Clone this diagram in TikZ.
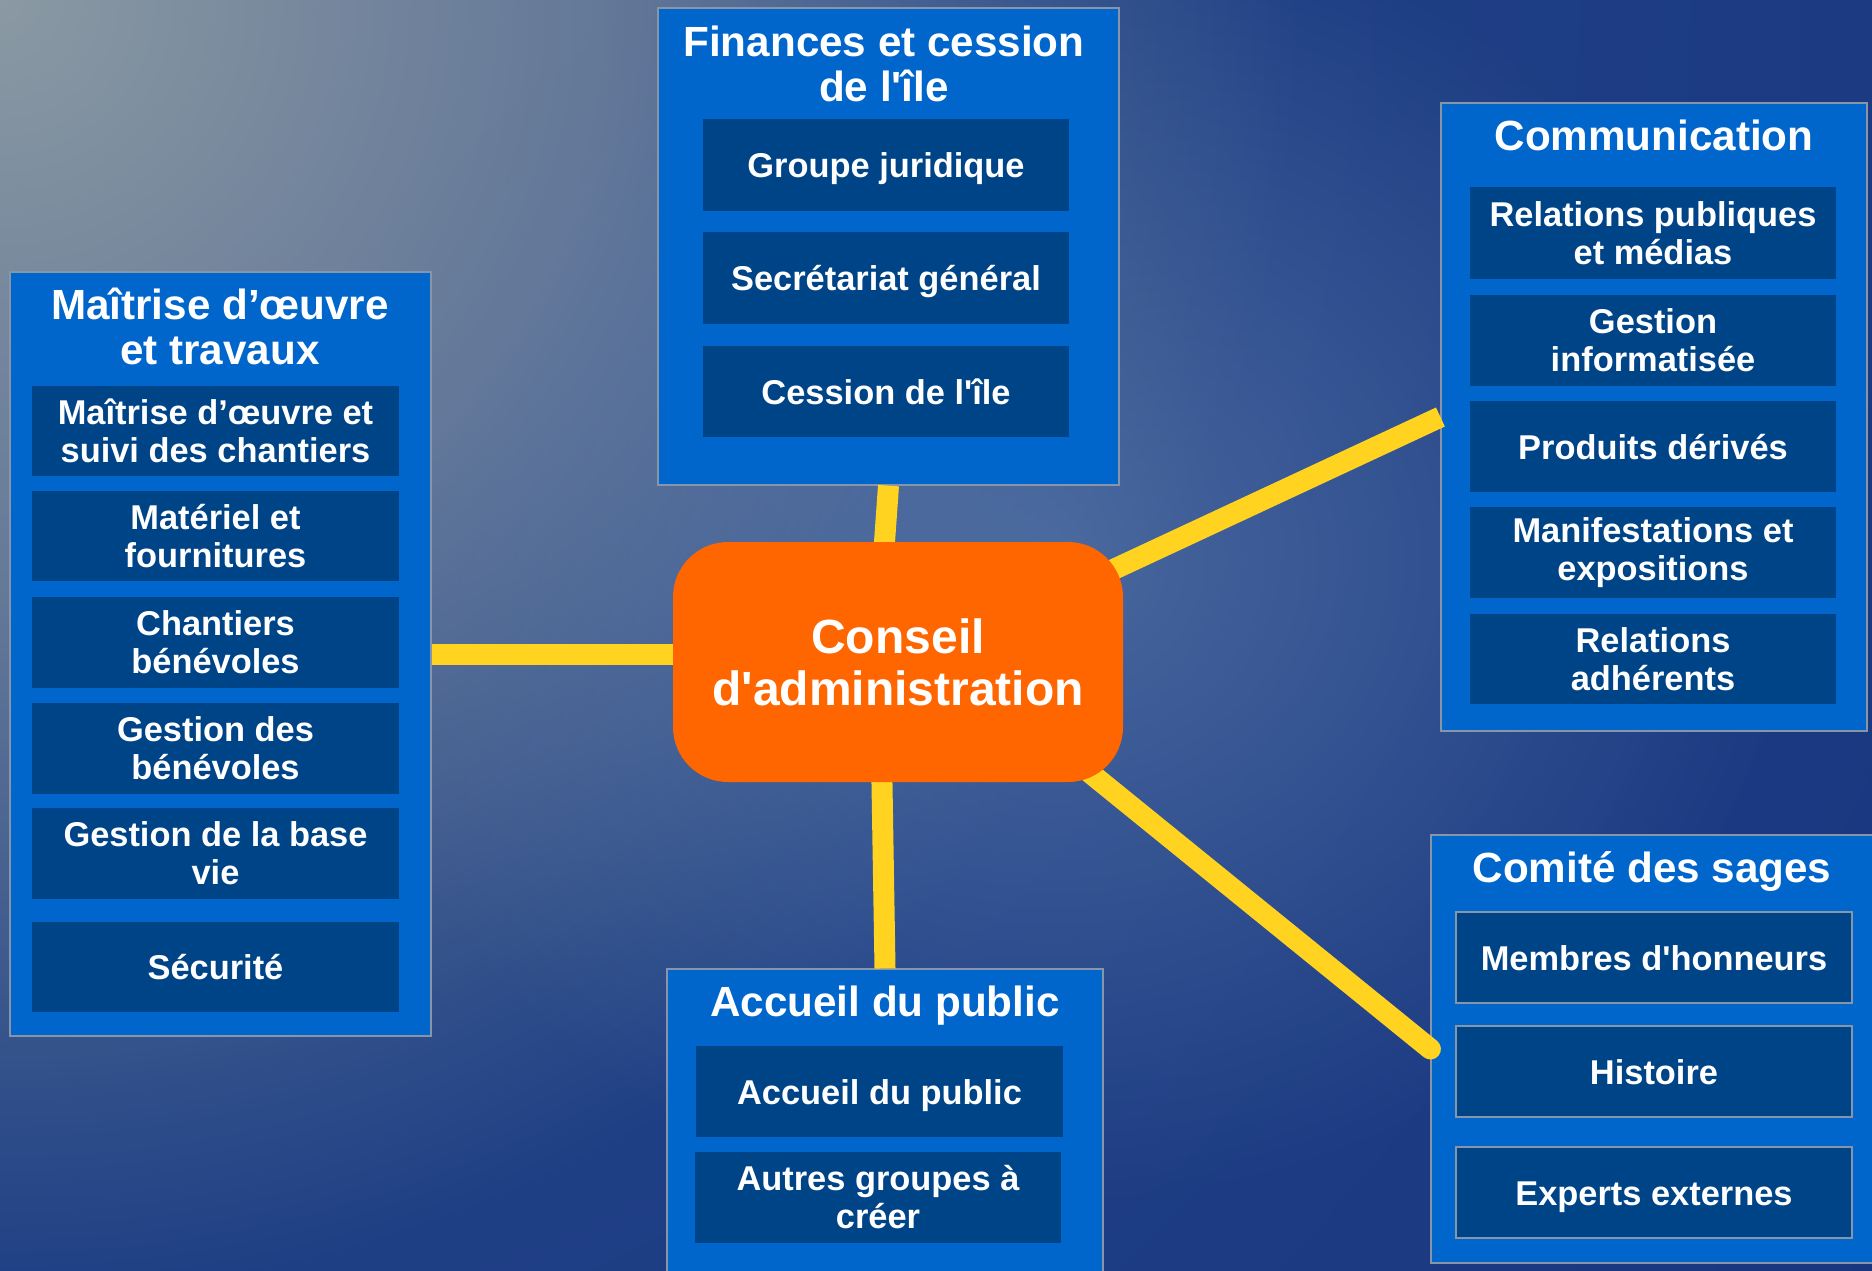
\documentclass[tikz,border=0pt]{standalone}
\usepackage{fontspec}
\setmainfont{Liberation Sans}[Ligatures=TeXOff]
\usetikzlibrary{calc,fadings}

\definecolor{grpblue}{HTML}{0066CC}
\definecolor{inblue}{HTML}{004488}
\definecolor{ctrorange}{HTML}{FF6600}
\definecolor{linkyel}{HTML}{FFD320}
\definecolor{edgegray}{HTML}{8696A8}
\definecolor{bgA}{RGB}{138,153,163}
\definecolor{bgB}{RGB}{100,120,152}
\definecolor{bgC}{RGB}{42,74,136}
\definecolor{bgD}{RGB}{31,63,133}
\definecolor{bgE}{RGB}{24,54,128}
\definecolor{glowc}{RGB}{100,130,175}

\pgfdeclareradialshading{bgrad}{\pgfpoint{0bp}{0bp}}{color(0bp)=(bgA); color(6.52bp)=(bgB); color(12.5bp)=(bgC); color(14.13bp)=(bgD); color(25bp)=(bgE); color(50bp)=(bgE)}
\tikzfading[name=glowfade, inner color=transparent!0, outer color=transparent!100]

\pgfdeclarelayer{bgl}
\pgfdeclarelayer{grl}
\pgfdeclarelayer{topl}
\pgfsetlayers{bgl,grl,main,topl}

% box from corner (x1,y1) to corner (x2,y2), in picture pixels
\newcommand\mkbox[7]{\node[#1, minimum width={(#5-#3)*0.5pt}, minimum height={(#6-#4)*0.5pt}] (#2) at ({(#3+#5)/2},{(#4+#6)/2}) {#7};}

\begin{document}
\begin{tikzpicture}[x=0.5pt,y=-0.5pt,
  grp/.style={draw=edgegray, line width=0.6pt, fill=grpblue, inner sep=0pt},
  inbox/.style={fill=inblue, inner sep=0pt, align=center, text=white,
    font=\fontsize{17.2pt}{19pt}\selectfont\bfseries},
  oneline/.style={inbox, text height=12.5pt, text depth=0pt},
  onelineo/.style={oneline, draw=edgegray, line width=0.6pt},
  gtitle/.style={text=white, align=center, inner sep=0pt,
    font=\fontsize{21.1pt}{22.5pt}\selectfont\bfseries},
  ctrbox/.style={fill=ctrorange, rounded corners=27.5pt, inner sep=0pt, align=center, text=white,
    font=\fontsize{24pt}{26pt}\selectfont\bfseries},
  link/.style={draw=linkyel, line width=10.5pt}
]
\useasboundingbox (0,0) rectangle (1872,1270);

\begin{pgfonlayer}{bgl}
  \clip (0,0) rectangle (1872,1270);
  \shade[shading=bgrad] (0,0) circle [radius=2300];
  \fill[glowc, path fading=glowfade, fill opacity=0.6] (1050,560) ellipse [x radius=750, y radius=650];
\end{pgfonlayer}

\begin{pgfonlayer}{grl}
  % Maitrise d'oeuvre et travaux
  \mkbox{grp}{L}{10}{272}{431}{1036}{}
  \node[gtitle] (Lt) at (220,326) {Maîtrise d’œuvre\\et travaux};
  \mkbox{inbox}{L1}{32}{386}{399}{476}{Maîtrise d’œuvre et\\suivi des chantiers}
  \mkbox{inbox}{L2}{32}{491}{399}{581}{Matériel et\\fournitures}
  \mkbox{inbox}{L3}{32}{597}{399}{688}{Chantiers\\bénévoles}
  \mkbox{inbox}{L4}{32}{703}{399}{794}{Gestion des\\bénévoles}
  \mkbox{inbox}{L5}{32}{808}{399}{899}{Gestion de la base\\vie}
  \mkbox{oneline}{L6}{32}{922}{399}{1012}{Sécurité}

  % Finances et cession de l'ile
  \mkbox{grp}{F}{658}{8}{1119}{485}{}
  \node[gtitle] (Ft) at (884,64) {Finances et cession\\de l'île};
  \mkbox{oneline}{F1}{703}{119}{1069}{211}{Groupe juridique}
  \mkbox{oneline}{F2}{703}{232}{1069}{324}{Secrétariat général}
  \mkbox{inbox}{F3}{703}{346}{1069}{437}{Cession de l'île}

  % Communication
  \mkbox{grp}{M}{1441}{103}{1867}{731}{}
  \node[gtitle] (Mt) at (1654,135) {Communication};
  \mkbox{inbox}{M1}{1470}{187}{1836}{279}{Relations publiques\\et médias}
  \mkbox{inbox}{M2}{1470}{295}{1836}{386}{Gestion\\informatisée}
  \mkbox{oneline}{M3}{1470}{401}{1836}{492}{Produits dérivés}
  \mkbox{inbox}{M4}{1470}{507}{1836}{598}{Manifestations et\\expositions}
  \mkbox{inbox}{M5}{1470}{614}{1836}{704}{Relations\\adhérents}

  % Comite des sages
  \mkbox{grp}{S}{1431}{835}{1890}{1263}{}
  \node[gtitle] (St) at (1652,871) {Comité des sages};
  \mkbox{onelineo}{S1}{1456}{912}{1852}{1003}{Membres d'honneurs}
  \mkbox{onelineo}{S2}{1456}{1026}{1852}{1117}{Histoire}
  \mkbox{onelineo}{S3}{1456}{1147}{1852}{1238}{Experts externes}

  % Accueil du public
  \mkbox{grp}{A}{667}{969}{1103}{1290}{}
  \node[gtitle] (At) at (885,1006) {Accueil du public};
  \mkbox{oneline}{A1}{696}{1046}{1063}{1137}{Accueil du public}
  \mkbox{inbox}{A2}{695}{1152}{1061}{1243}{Autres groupes à\\créer}
\end{pgfonlayer}

\begin{pgfonlayer}{topl}
  \mkbox{ctrbox}{C}{673}{542}{1123}{782}{Conseil\\d'administration}
\end{pgfonlayer}

% connectors (above group boxes, below the central node)
\draw[link] (L.east) -- (L.east -| C.center);
\draw[link] (F.south) -- ($(C.center)+(-22,0)$);
\draw[link] (A.north) -- ($(C.center)+(-18,0)$);
\draw[link] (M.west) -- ($(C.center)+(0,8)$);
\draw[link, line cap=round] (S.west) -- ($(C.center)+(0,-45)$);
\end{tikzpicture}
\end{document}
